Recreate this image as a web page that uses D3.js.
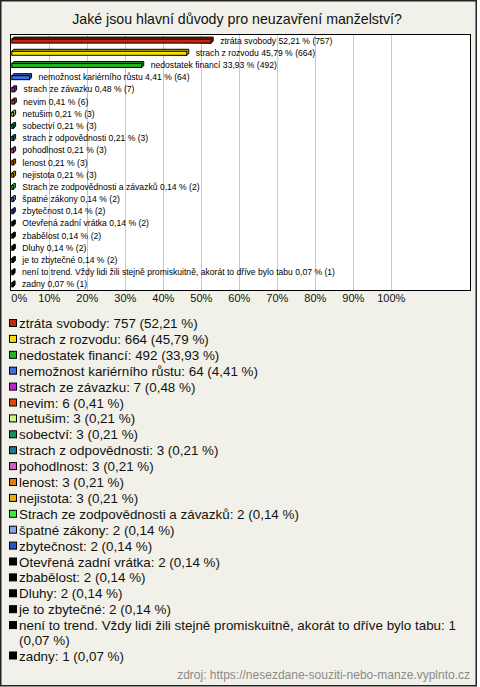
<!DOCTYPE html>
<html><head><meta charset="utf-8">
<script src="https://cdn.jsdelivr.net/npm/d3@7"></script>
<style>
html,body{margin:0;padding:0;background:#fff;}
svg{display:block;font-family:"Liberation Sans",Arial,sans-serif;}
</style></head>
<body>
<svg id="c" width="480" height="687"></svg>
<script>
const title = "Jaké jsou hlavní důvody pro neuzavření manželství?";
const categories = ["ztráta svobody","strach z rozvodu","nedostatek financí","nemožnost kariérního růstu","strach ze závazku","nevim","netušim","sobectví","strach z odpovědnosti","pohodlnost","lenost","nejistota","Strach ze zodpovědnosti a závazků","špatné zákony","zbytečnost","Otevřená zadní vrátka","zbabělost","Dluhy","je to zbytečné","není to trend. Vždy lidi žili stejně promiskuitně, akorát to dříve bylo tabu","zadny"];
const counts = [757,664,492,64,7,6,3,3,3,3,3,3,2,2,2,2,2,2,2,1,1];
const percents = [52.21,45.79,33.93,4.41,0.48,0.41,0.21,0.21,0.21,0.21,0.21,0.21,0.14,0.14,0.14,0.14,0.14,0.14,0.14,0.07,0.07];
const colors = ["#c4280c","#f8e000","#22b322","#4070e0","#c21fd4","#e0440c","#ccf28c","#12905a","#1c7a8c","#c864c8","#e8780a","#e4b00c","#3cec3c","#88a4e4","#3050c8","#000","#000","#000","#000","#000","#000"];
const ticks = [0,10,20,30,40,50,60,70,80,90,100];
const source = "zdroj: https://nesezdane-souziti-nebo-manze.vyplnto.cz";

const fmt = v => d3.format(".2f")(v).replace(".", ",");
const svg = d3.select("#c");

// frame
svg.append("rect").attr("x",0.75).attr("y",0.75).attr("width",475.5).attr("height",685)
  .attr("fill","#f2f1e9").attr("stroke","#222").attr("stroke-width",1.5);

svg.append("text").attr("x",237).attr("y",24).attr("text-anchor","middle")
  .attr("font-size",14.2).attr("fill","#111").text(title);

// plot
const px0 = 10.5, px1 = 470.5, py0 = 34.5, py1 = 290.5;
const x = d3.scaleLinear().domain([0,100]).range([11.3, 391.3]);
const y = d3.scaleBand().domain(d3.range(categories.length)).range([py0, py1]);

svg.append("rect").attr("x",px0).attr("y",py0).attr("width",px1-px0).attr("height",py1-py0)
  .attr("fill","#fff");
const g = svg.append("g");
g.selectAll("line.grid").data(ticks.slice(1)).join("line")
  .attr("x1",d=>Math.round(x(d))+0.5).attr("x2",d=>Math.round(x(d))+0.5)
  .attr("y1",py0).attr("y2",py1).attr("stroke","#c8c8c8").attr("stroke-width",1);

const rows = g.selectAll("g.row").data(categories).join("g")
  .attr("transform",(d,i)=>`translate(0,${y(i)+y.bandwidth()/2})`);
const dep = 2;
rows.append("path")
  .attr("d",(d,i)=>{
    const x0 = x(0)+0.5, x1 = x(percents[i]) + 1.5;
    return `M${x0},-1.5 L${x0+dep},${-1.5-dep} L${x1+dep},${-1.5-dep} L${x1+dep},${2.5-dep} L${x1},2.5 Z`;
  })
  .attr("fill",(d,i)=>d3.color(colors[i]).darker(0.6)).attr("stroke","#000").attr("stroke-width",1);
rows.append("rect")
  .attr("x",x(0)+0.5).attr("y",-1.5)
  .attr("width",(d,i)=>Math.max(0.5, x(percents[i]) - x(0) + 1))
  .attr("height",4)
  .attr("fill",(d,i)=>colors[i]).attr("stroke","#000").attr("stroke-width",1);
rows.append("text")
  .attr("x",(d,i)=>x(percents[i]) + 10.5)
  .attr("y",3)
  .attr("font-size",8.6).attr("fill","#000")
  .text((d,i)=>`${d} ${fmt(percents[i])} % (${counts[i]})`);

svg.append("rect").attr("x",px0).attr("y",py0).attr("width",px1-px0).attr("height",py1-py0)
  .attr("fill","none").attr("stroke","#000").attr("stroke-width",1);

// axis
svg.append("g").selectAll("text").data(ticks).join("text")
  .attr("x",d=> d===0 ? x(0) : x(d))
  .attr("y",302)
  .attr("text-anchor",d=> d===0 ? "start" : "middle")
  .attr("font-size",11).attr("fill","#111")
  .text(d=>d+"%");

// legend
const lg = svg.append("g");
let ly = 323;
const maxW = 452;
categories.forEach((c,i)=>{
  const full = `${c}: ${counts[i]} (${fmt(percents[i])} %)`;
  lg.append("rect").attr("x",9.5).attr("y",ly-3.5).attr("width",7).attr("height",7)
    .attr("fill",colors[i]).attr("stroke","#000").attr("stroke-width",1);
  const t = lg.append("text").attr("x",19).attr("y",ly+5).attr("font-size",13.4).attr("fill","#111");
  const words = full.split(" ");
  let line = [], lines = [];
  const tmp = t.append("tspan");
  words.forEach(w=>{
    line.push(w);
    tmp.text(line.join(" "));
    if (tmp.node().getComputedTextLength() > maxW && line.length>1){
      line.pop(); lines.push(line.join(" ")); line=[w];
    }
  });
  lines.push(line.join(" "));
  tmp.remove();
  lines.forEach((l,k)=>{
    t.append("tspan").attr("x",19).attr("dy",k===0?0:14.5).text(l);
  });
  ly += 15.9 + (lines.length-1)*14.5;
});

svg.append("text").attr("x",470).attr("y",679).attr("text-anchor","end")
  .attr("font-size",12).attr("fill","#8a8a8a").text(source);
</script>
</body></html>
